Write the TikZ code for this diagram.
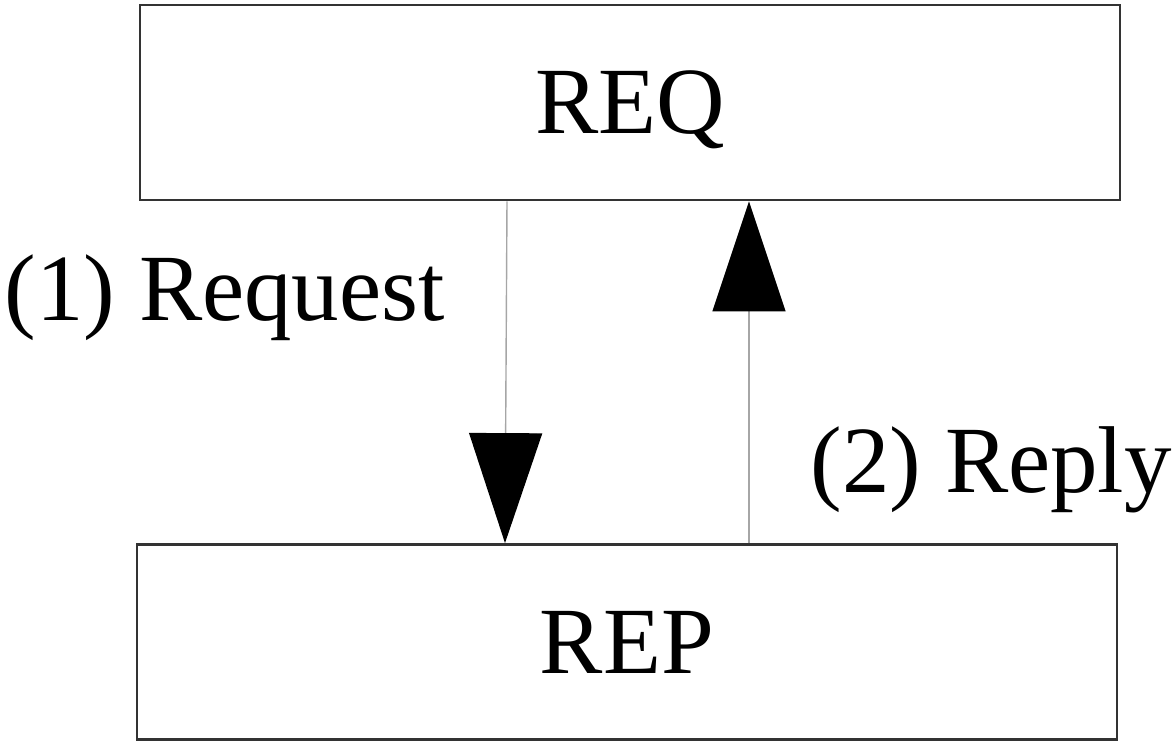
\documentclass[tikz,border=0pt]{standalone}
\usepackage{fontspec}
\setmainfont{Liberation Serif}
\usepackage{tikz}
\usetikzlibrary{positioning, arrows.meta}

\begin{document}
\begin{tikzpicture}[
    box/.style={rectangle, draw=black!80, line width=0.8pt, minimum width=9.8cm,
                minimum height=1.95cm, inner sep=0pt, text depth=0pt,
                font=\fontsize{27}{32}\selectfont},
    link/.style={draw=black!35, line width=0.4pt,
                 -{Triangle[length=1.1cm, width=0.73cm, color=black]}},
    label/.style={font=\fontsize{27}{32}\selectfont, inner sep=0pt, anchor=base west}
]
    \useasboundingbox (0,0) rectangle (11.74,-7.41);

    % === Boxes ===
    \node[box] (req) at (6.30,-1.025) {REQ};
    \node[box] (rep) at (6.27,-6.42) {REP};

    % === Request: down ===
    \draw[link] ([xshift=-1.23cm]req.south) -- ([xshift=-1.22cm]rep.north);
    \node[label] (lreq) at (0.04,-3.20) {(1) Request};

    % === Reply: up ===
    \draw[link] ([xshift=1.22cm]rep.north) -- ([xshift=1.19cm]req.south);
    \node[label] (lrep) at (8.10,-4.92) {(2) Reply};

\end{tikzpicture}
\end{document}
